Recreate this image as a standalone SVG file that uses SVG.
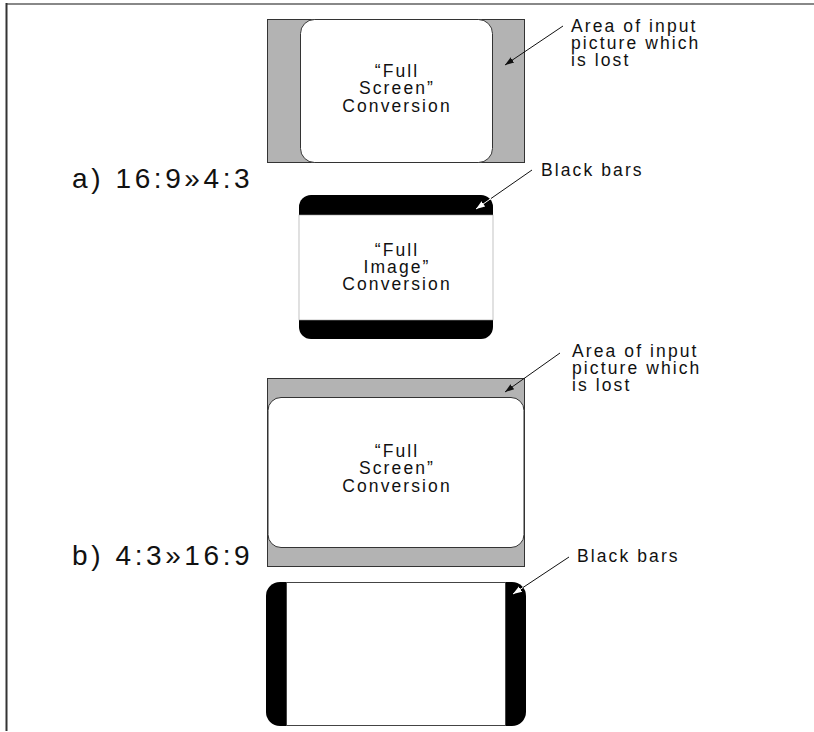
<svg xmlns="http://www.w3.org/2000/svg" width="814" height="732" viewBox="0 0 814 732">
  <style>
    .lbl { font-family: "Liberation Sans", Arial, sans-serif; font-size: 17.5px; letter-spacing: 2.1px; fill: #111; }
    .mid { text-anchor: middle; }
    .big { font-family: "Liberation Sans", Arial, sans-serif; font-size: 28px; letter-spacing: 3.6px; fill: #111; }
    .lost { fill: #b3b3b3; stroke: #333; stroke-width: 1; }
    .pic { fill: #fff; stroke: #333; stroke-width: 1; }
    .bar { fill: #000; }
    .lead { stroke: #111; stroke-width: 1; fill: none; }
    .lead-w { stroke: #fff; stroke-width: 1; fill: none; }
  </style>
  <defs>
    <marker id="ah" viewBox="0 0 10 10" refX="10" refY="5" markerWidth="9" markerHeight="9" markerUnits="userSpaceOnUse" orient="auto">
      <path d="M0,1.5 L10,5 L0,8.5 Z" fill="#111"/>
    </marker>
    <marker id="ah-w" viewBox="0 0 10 10" refX="10" refY="5" markerWidth="9" markerHeight="9" markerUnits="userSpaceOnUse" orient="auto">
      <path d="M0,1.5 L10,5 L0,8.5 Z" fill="#fff"/>
    </marker>
  </defs>

  <!-- page frame -->
  <line x1="6" y1="4" x2="814" y2="4" stroke="#888" stroke-width="2"/>
  <line x1="6.5" y1="3" x2="6.5" y2="731" stroke="#333" stroke-width="2"/>

  <!-- section titles -->
  <text class="big" x="72" y="188">a) 16:9»4:3</text>
  <text class="big" x="72" y="565">b) 4:3»16:9</text>

  <!-- a) full screen: sides cropped -->
  <g id="a-fullscreen">
    <rect class="lost" x="267.5" y="19.5" width="257" height="143"/>
    <rect class="pic" x="300.5" y="19.5" width="192" height="143" rx="14" ry="14"/>
    <text class="lbl mid" x="397" y="77">“Full</text>
    <text class="lbl mid" x="397" y="94">Screen”</text>
    <text class="lbl mid" x="397" y="112">Conversion</text>
  </g>

  <!-- a) full image: letterbox -->
  <g id="a-fullimage">
    <rect class="bar" x="299" y="195" width="194" height="144" rx="12" ry="12"/>
    <rect x="299" y="215" width="194" height="105" fill="#fff" stroke="#999" stroke-width="0.6"/>
    <text class="lbl mid" x="397" y="256">“Full</text>
    <text class="lbl mid" x="397" y="273">Image”</text>
    <text class="lbl mid" x="397" y="290">Conversion</text>
  </g>

  <!-- b) full screen: top and bottom cropped -->
  <g id="b-fullscreen">
    <rect class="lost" x="267.5" y="378.5" width="257" height="188"/>
    <rect class="pic" x="268" y="397.5" width="256" height="150" rx="13" ry="13"/>
    <text class="lbl mid" x="397" y="457">“Full</text>
    <text class="lbl mid" x="397" y="474">Screen”</text>
    <text class="lbl mid" x="397" y="492">Conversion</text>
  </g>

  <!-- b) pillarbox -->
  <g id="b-pillarbox">
    <rect class="bar" x="266" y="582" width="260" height="144" rx="14" ry="14"/>
    <rect x="286.5" y="582.5" width="219" height="143" fill="#fff" stroke="#444" stroke-width="1"/>
  </g>

  <!-- callout labels -->
  <g id="callout-lost-a">
    <text class="lbl" x="571" y="32">Area of input</text>
    <text class="lbl" x="571" y="49">picture which</text>
    <text class="lbl" x="571" y="66">is lost</text>
  </g>
  <g id="callout-bars-a">
    <text class="lbl" x="541" y="176">Black bars</text>
  </g>
  <g id="callout-lost-b">
    <text class="lbl" x="572" y="357">Area of input</text>
    <text class="lbl" x="572" y="374">picture which</text>
    <text class="lbl" x="572" y="391">is lost</text>
  </g>
  <g id="callout-bars-b">
    <text class="lbl" x="577" y="562">Black bars</text>
  </g>

  <!-- leader arrows -->
  <g id="connectors">
    <line class="lead" x1="563" y1="26" x2="505" y2="65" marker-end="url(#ah)"/>
    <line class="lead" x1="532" y1="170" x2="491" y2="198.5"/>
    <line class="lead-w" x1="491" y1="198.5" x2="476" y2="209" marker-end="url(#ah-w)"/>
    <line class="lead" x1="560" y1="353" x2="505" y2="392" marker-end="url(#ah)"/>
    <line class="lead" x1="569" y1="557" x2="523" y2="587.5"/>
    <line class="lead-w" x1="523" y1="587.5" x2="513" y2="594" marker-end="url(#ah-w)"/>
  </g>
</svg>
